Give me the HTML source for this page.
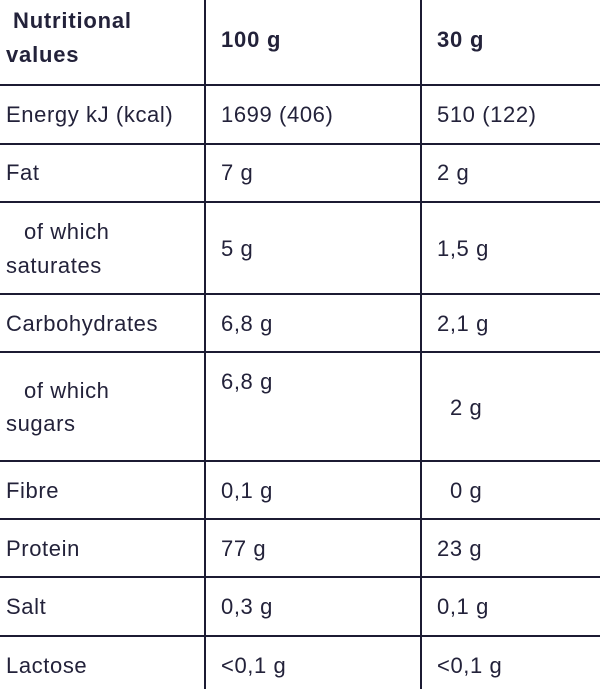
<!DOCTYPE html>
<html><head><style>
body{margin:0;width:600px;height:689px;background:#fff;position:relative;overflow:hidden;font-family:"Liberation Sans",sans-serif;color:#23223a;font-size:22px;letter-spacing:0.6px}
.h{position:absolute;left:0;width:600px;height:2px;background:#1c1b33}
.v{position:absolute;top:0;height:689px;width:2px;background:#1c1b33}
.t{position:absolute;line-height:24px;white-space:nowrap}
b{font-weight:bold;letter-spacing:0.8px}
</style></head><body>
<div class="v" style="left:204px"></div>
<div class="v" style="left:420px"></div>
<div class="h" style="top:84px"></div>
<div class="h" style="top:143px"></div>
<div class="h" style="top:201px"></div>
<div class="h" style="top:293px"></div>
<div class="h" style="top:351px"></div>
<div class="h" style="top:460px"></div>
<div class="h" style="top:518px"></div>
<div class="h" style="top:576px"></div>
<div class="h" style="top:635px"></div>

<div class="t" style="left:13px;top:9px"><b>Nutritional</b></div>
<div class="t" style="left:6px;top:43px"><b>values</b></div>
<div class="t" style="left:221px;top:28px"><b>100 g</b></div>
<div class="t" style="left:437px;top:28px"><b>30 g</b></div>

<div class="t" style="left:6px;top:103px">Energy kJ (kcal)</div>
<div class="t" style="left:221px;top:103px">1699 (406)</div>
<div class="t" style="left:437px;top:103px">510 (122)</div>

<div class="t" style="left:6px;top:161px">Fat</div>
<div class="t" style="left:221px;top:161px">7 g</div>
<div class="t" style="left:437px;top:161px">2 g</div>

<div class="t" style="left:24px;top:220px">of which</div>
<div class="t" style="left:6px;top:254px">saturates</div>
<div class="t" style="left:221px;top:237px">5 g</div>
<div class="t" style="left:437px;top:237px">1,5 g</div>

<div class="t" style="left:6px;top:312px">Carbohydrates</div>
<div class="t" style="left:221px;top:312px">6,8 g</div>
<div class="t" style="left:437px;top:312px">2,1 g</div>

<div class="t" style="left:24px;top:379px">of which</div>
<div class="t" style="left:6px;top:412px">sugars</div>
<div class="t" style="left:221px;top:370px">6,8 g</div>
<div class="t" style="left:450px;top:396px">2 g</div>

<div class="t" style="left:6px;top:479px">Fibre</div>
<div class="t" style="left:221px;top:479px">0,1 g</div>
<div class="t" style="left:450px;top:479px">0 g</div>

<div class="t" style="left:6px;top:537px">Protein</div>
<div class="t" style="left:221px;top:537px">77 g</div>
<div class="t" style="left:437px;top:537px">23 g</div>

<div class="t" style="left:6px;top:595px">Salt</div>
<div class="t" style="left:221px;top:595px">0,3 g</div>
<div class="t" style="left:437px;top:595px">0,1 g</div>

<div class="t" style="left:6px;top:654px">Lactose</div>
<div class="t" style="left:221px;top:654px">&lt;0,1 g</div>
<div class="t" style="left:437px;top:654px">&lt;0,1 g</div>
</body></html>
